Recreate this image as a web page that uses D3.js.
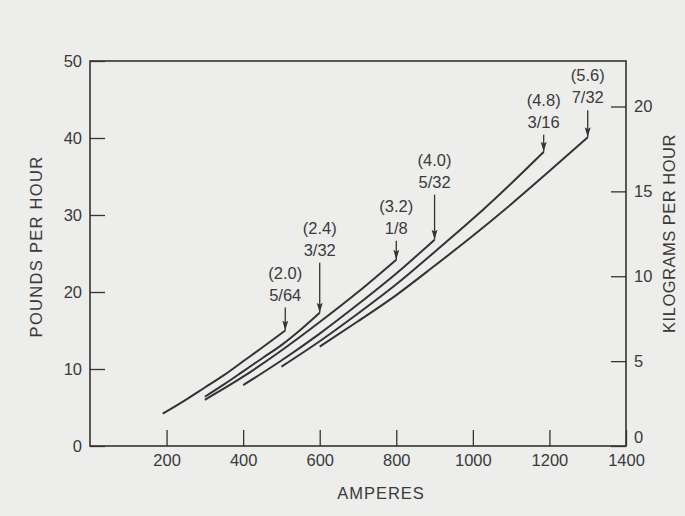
<!DOCTYPE html>
<html>
<head>
<meta charset="utf-8">
<script src="https://cdn.jsdelivr.net/npm/d3@7"></script>
<style>
  body { margin: 0; background: #ededeb; }
  svg { display: block; }
  text { font-family: "Liberation Sans", Arial, sans-serif; fill: #3a3a3a; }
</style>
</head>
<body>
<script>
// tick values
var ampTicks = [200, 400, 600, 800, 1000, 1200, 1400]
var lbTicks = [0, 10, 20, 30, 40, 50]
var kgTicks = [0, 5, 10, 15, 20]

// wire sizes: (mm) and inch
var wireMM = ['(2.0)', '(2.4)', '(3.2)', '(4.0)', '(4.8)', '(5.6)']
var wireInch = ['5/64', '3/32', '1/8', '5/32', '3/16', '7/32']

// melt rate curves, amperes vs pounds per hour
var amps564 = [190, 250, 300, 350, 400, 450, 510]
var lbs564 = [4.2, 6.0, 7.6, 9.2, 11.0, 12.8, 15.0]
var amps332 = [300, 350, 400, 450, 500, 550, 600]
var lbs332 = [6.4, 8.0, 9.7, 11.4, 13.1, 15.1, 17.3]
var amps18 = [300, 400, 500, 600, 700, 800]
var lbs18 = [6.0, 9.0, 12.4, 16.1, 20.0, 24.2]
var amps532 = [400, 500, 600, 700, 800, 900]
var lbs532 = [7.9, 11.1, 14.6, 18.4, 22.4, 26.8]
var amps316 = [500, 600, 700, 800, 900, 1000, 1100, 1185]
var lbs316 = [10.3, 13.6, 17.2, 21.0, 25.2, 29.5, 34.1, 38.2]
var amps732 = [600, 700, 800, 900, 1000, 1100, 1200, 1300]
var lbs732 = [12.9, 16.2, 19.6, 23.4, 27.3, 31.4, 35.7, 40.1]

var series = [
  [amps564, lbs564], [amps332, lbs332], [amps18, lbs18],
  [amps532, lbs532], [amps316, lbs316], [amps732, lbs732]
]

// annotation arrow length (px) above each curve end
var arrowLen = [23, 50, 19, 45, 17, 27]

var margin = {top: 61, right: 59, bottom: 70, left: 90}
var width = 685 - margin.left - margin.right
var height = 516 - margin.top - margin.bottom
var ink = '#333'

var x = d3.scaleLinear().domain([0, 1400]).range([0, width])
var y = d3.scaleLinear().domain([0, 50]).range([height, 0])
var yKg = d3.scaleLinear().domain([0, 50 / 2.2046]).range([height, 0])

var root = d3.select('body').append('svg')
  .attr('width', 685)
  .attr('height', 516)

root.append('defs').append('marker')
  .attr('id', 'head')
  .attr('viewBox', '0 0 10 10')
  .attr('refX', 10).attr('refY', 5)
  .attr('markerWidth', 10).attr('markerHeight', 10)
  .attr('markerUnits', 'userSpaceOnUse')
  .attr('orient', 'auto')
  .append('path')
  .attr('d', 'M0,2 L10,5 L0,8 L2,5 Z')
  .attr('fill', ink)

var svg = root.append('g')
  .attr('transform', `translate(${margin.left}, ${margin.top})`)

// frame
svg.append('rect')
  .attr('width', width).attr('height', height)
  .attr('fill', 'none').attr('stroke', ink).attr('stroke-width', 1.6)

function styleAxis (g) {
  g.select('.domain').remove()
  g.selectAll('.tick line').attr('stroke', ink).attr('stroke-width', 1.3)
  g.selectAll('.tick text')
    .style('font-family', '"Liberation Sans", Arial, sans-serif')
    .style('font-size', '16.5px')
    .attr('fill', '#3a3a3a')
}

svg.append('g')
  .attr('transform', `translate(0, ${height})`)
  .call(d3.axisBottom(x).tickValues(ampTicks).tickFormat(d3.format('d')).tickSize(-16).tickPadding(8))
  .call(styleAxis)

svg.append('g')
  .call(d3.axisLeft(y).tickValues(lbTicks).tickSize(-15).tickPadding(8))
  .call(styleAxis)

var right = svg.append('g')
  .attr('transform', `translate(${width}, 0)`)
  .call(d3.axisRight(yKg).tickValues(kgTicks).tickSize(-15).tickPadding(8))
  .call(styleAxis)
right.selectAll('.tick').filter(d => d === 0).select('text').attr('y', -9)

// curves
var line = d3.line()
  .x(d => x(d[0]))
  .y(d => y(d[1]))
  .curve(d3.curveMonotoneX)

svg.selectAll('.curve')
  .data(series)
  .enter().append('path')
  .attr('class', 'curve')
  .attr('d', s => line(d3.zip(s[0], s[1])))
  .attr('fill', 'none')
  .attr('stroke', ink)
  .attr('stroke-width', 2)

// annotations
series.forEach(function (s, i) {
  var ex = x(s[0][s[0].length - 1])
  var ey = y(s[1][s[1].length - 1])
  var top = ey - arrowLen[i]
  svg.append('line')
    .attr('x1', ex).attr('y1', top)
    .attr('x2', ex).attr('y2', ey)
    .attr('stroke', ink).attr('stroke-width', 1.3)
    .attr('marker-end', 'url(#head)')
  svg.append('text')
    .attr('x', ex).attr('y', top - 7)
    .attr('text-anchor', 'middle')
    .style('font-size', '16.5px')
    .text(wireInch[i])
  svg.append('text')
    .attr('x', ex).attr('y', top - 29)
    .attr('text-anchor', 'middle')
    .style('font-size', '16.5px')
    .text(wireMM[i])
})

// axis titles
svg.append('text')
  .attr('transform', `translate(${-48}, ${height / 2 - 7}) rotate(-90)`)
  .attr('text-anchor', 'middle')
  .style('font-size', '16.5px')
  .style('letter-spacing', '1.3px')
  .text('POUNDS PER HOUR')

svg.append('text')
  .attr('transform', `translate(${width + 49}, ${height / 2 - 20}) rotate(-90)`)
  .attr('text-anchor', 'middle')
  .style('font-size', '16.5px')
  .style('letter-spacing', '0.5px')
  .text('KILOGRAMS PER HOUR')

svg.append('text')
  .attr('x', 291).attr('y', height + 53)
  .attr('text-anchor', 'middle')
  .style('font-size', '16.5px')
  .style('letter-spacing', '1px')
  .text('AMPERES')
</script>
</body>
</html>
